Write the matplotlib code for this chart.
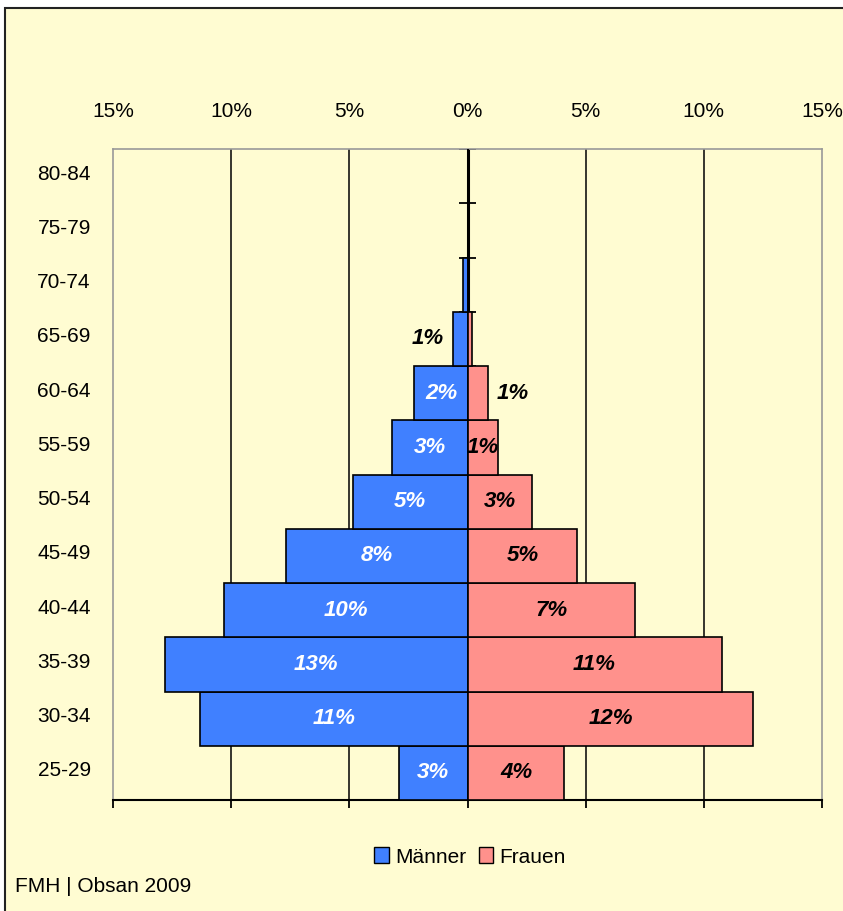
import numpy as np
import matplotlib.pyplot as plt
import matplotlib.transforms as mtransforms
from matplotlib.patches import Rectangle, Patch

plt.rcParams['font.family'] = ['Liberation Sans', 'DejaVu Sans']

# age groups, bottom to top
groups = ["25-29", "30-34", "35-39", "40-44", "45-49", "50-54",
          "55-59", "60-64", "65-69", "70-74", "75-79", "80-84"]
maenner = [2.9, 11.3, 12.8, 10.3, 7.7, 4.85, 3.2, 2.25, 0.6, 0.2, 0.0, 0.0]
frauen = [4.1, 12.1, 10.75, 7.1, 4.65, 2.75, 1.3, 0.85, 0.17, 0.0, 0.0, 0.0]
ticks = [-15, -10, -5, 0, 5, 10, 15]
tick_labels = ["15%", "10%", "5%", "0%", "5%", "10%", "15%"]

blue = "#4080FF"
pink = "#FF918C"
bg = "#FFFCD2"

fig = plt.figure(figsize=(8.43, 9.11), dpi=100, facecolor="white")
fig.patches.append(Rectangle((5 / 843, -0.1), 1.2, 1 - 8 / 911 + 0.1, transform=fig.transFigure,
                             facecolor=bg, edgecolor="#222222", lw=1.5, zorder=-10))
ax = fig.add_axes([113 / 843, 111 / 911, (822 - 113) / 843, (800 - 149) / 911])
ax.set_facecolor(bg)

y = np.arange(len(groups))
ax.barh(y, -np.array(maenner), height=1.0, color=blue, edgecolor="black", lw=1.2, zorder=3)
ax.barh(y, frauen, height=1.0, color=pink, edgecolor="black", lw=1.2, zorder=3)

# gridlines and center axis with category ticks
for t in [-10, -5, 5, 10]:
    ax.axvline(t, color="black", lw=1.1, zorder=1)
ax.axvline(0, color="black", lw=2.2, zorder=2)
ax.hlines(np.arange(len(groups) + 1) - 0.5, -0.35, 0.35, color="black", lw=1.3, zorder=2)

# data labels
lbl = dict(fontsize=16, fontweight="bold", fontstyle="italic", va="center", zorder=5)
for i, (m, f) in enumerate(zip(maenner, frauen)):
    if round(m) >= 1:
        if m >= 1:
            ax.text(-m / 2, i, f"{round(m):.0f}%", color="white", ha="center", **lbl)
        else:
            ax.text(-m - 0.4, i, f"{round(m):.0f}%", color="black", ha="right", **lbl)
    if round(f) >= 1:
        if f >= 1:
            ax.text(f / 2, i, f"{round(f):.0f}%", color="black", ha="center", **lbl)
        else:
            ax.text(f + 0.4, i, f"{round(f):.0f}%", color="black", ha="left", **lbl)

ax.set_xlim(-15, 15)
ax.set_ylim(-0.5, len(groups) - 0.5)
ax.set_xticks(ticks)
ax.set_xticklabels(tick_labels, fontsize=15)
ax.tick_params(axis="x", bottom=True, top=False, labelbottom=False, labeltop=True,
               direction="out", length=6, width=1.3, pad=14)
ax.set_yticks(y)
ax.set_yticklabels(groups, fontsize=15)
ax.tick_params(axis="y", length=0, pad=16)
# nudge the age labels up a little, like the original
shift = mtransforms.ScaledTranslation(0, 4 / 100, fig.dpi_scale_trans)
for t in ax.get_yticklabels():
    t.set_transform(t.get_transform() + shift)

for s in ["top", "left", "right"]:
    ax.spines[s].set_color("#999999")
    ax.spines[s].set_linewidth(1.2)
ax.spines["bottom"].set_color("black")
ax.spines["bottom"].set_linewidth(1.5)

handles = [Patch(facecolor=blue, edgecolor="black", label="Männer"),
           Patch(facecolor=pink, edgecolor="black", label="Frauen")]
fig.legend(handles=handles, loc="center", bbox_to_anchor=(470 / 843, 54 / 911), ncol=2,
           frameon=False, fontsize=15, handlelength=0.7, handleheight=0.8,
           handletextpad=0.3, columnspacing=0.6)
fig.text(15 / 843, 25 / 911, "FMH | Obsan 2009", fontsize=15, ha="left", va="center")

fig.savefig("out.png", dpi=100, facecolor="white")
